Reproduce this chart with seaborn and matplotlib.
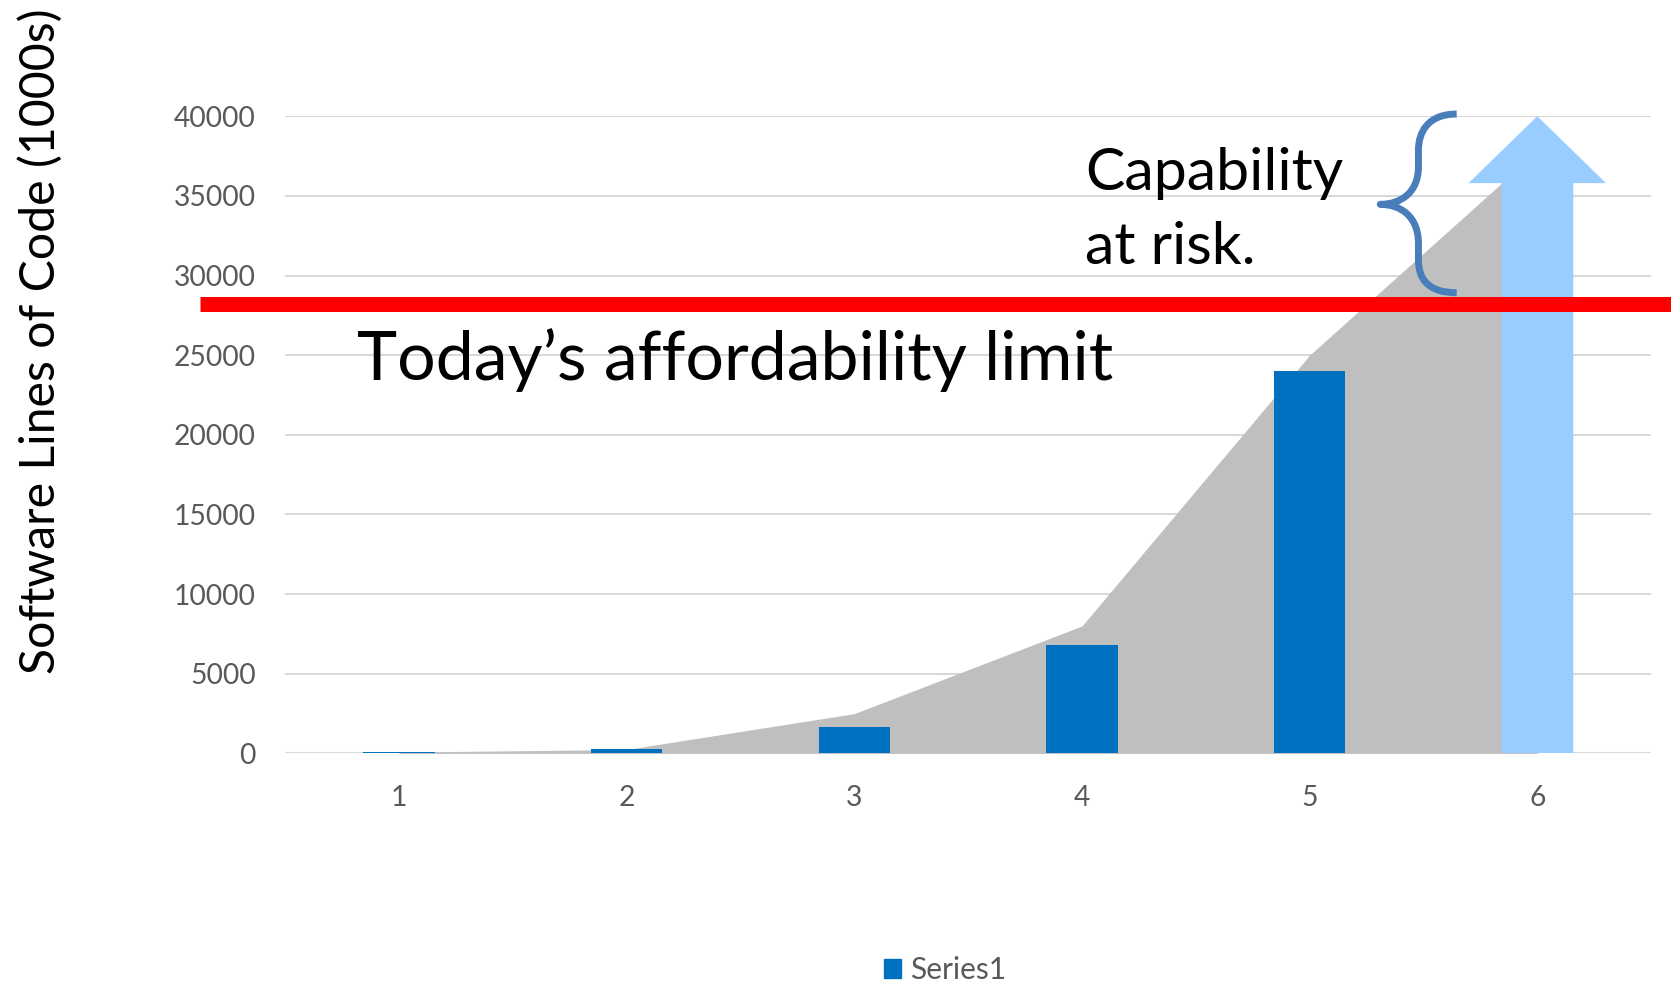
import numpy as np
import pandas as pd
import matplotlib
matplotlib.use("Agg")
import matplotlib.pyplot as plt
import seaborn as sns
from matplotlib.patches import FancyArrow, PathPatch, Patch
from matplotlib.path import Path

# ---- data ----
categories = ["1", "2", "3", "4", "5", "6"]
bar_values = [100, 250, 1650, 6800, 24000, np.nan]      # Series1 (blue bars)
trend_values = [80, 250, 2500, 8000, 25000, 37800]      # grey growth area
projected_value = 40000                                 # light-blue arrow at category 6
arrow_head_base = 35800
affordability_limit = 28200
y_ticks = [0, 5000, 10000, 15000, 20000, 25000, 30000, 35000, 40000]

sns.set_theme(style="white")
plt.rcParams['font.family'] = ['Lato', 'DejaVu Sans']

fig = plt.figure(figsize=(16.71, 9.84), dpi=100)
ax = fig.add_axes([0.1706, 0.2343, 0.8175, 0.6476])

pos = np.arange(len(categories))
df = pd.DataFrame({"category": categories, "value": bar_values})

# grey area
ax.fill_between(pos, trend_values, color="#bfbfbf", linewidth=0, zorder=1)

# blue bars
sns.barplot(data=df, x="category", y="value", order=categories, color="#0070c0",
            width=0.314, saturation=1, ax=ax, zorder=2, linewidth=0, edgecolor="none",
            err_kws={'linewidth': 0})

# light-blue arrow at category 6
ax.add_patch(FancyArrow(pos[-1], 0, 0, projected_value, width=0.316, head_width=0.604,
                        head_length=projected_value - arrow_head_base,
                        length_includes_head=True, color="#99ccff", lw=0, zorder=3))

# axes styling
ax.set_xlim(-0.5, 5.5)
ax.set_ylim(0, 40000)
ax.set_yticks(y_ticks)
ax.set_yticklabels([str(t) for t in y_ticks])
ax.yaxis.grid(True, color="#d9d9d9", lw=1.5)
ax.set_axisbelow(True)
for s in ax.spines.values():
    s.set_visible(False)
ax.tick_params(axis='both', length=0, labelsize=20.3, labelcolor='#595959')
ax.tick_params(axis='y', pad=21)
ax.tick_params(axis='x', pad=23)
ax.set_xlabel("")
ax.set_ylabel("")

# red affordability limit line
ax.axhline(affordability_limit, xmin=-0.062, xmax=1.02, color="#ff0000", lw=10.8,
           clip_on=False, zorder=4, solid_capstyle='butt')

# annotations
ax.text(-0.184, 23440, "Today\u2019s affordability limit", fontsize=49, color='black',
        va='baseline', ha='left', zorder=5)
ax.text(3.015, 35386, "Capability", fontsize=42.5, color='black', va='baseline', ha='left', zorder=5)
ax.text(3.015, 30750, "at risk.", fontsize=42.5, color='black', va='baseline', ha='left', zorder=5)

# curly brace
xe, xs, xt = 4.646, 4.478, 4.310
yt, ym, yb = 40138, 34468, 28920
verts = [
    (xe, yt),
    (4.52, yt), (xs, 39000), (xs, 37866),
    (xs, 36830),
    (xs, 35200), (4.40, ym), (xt, ym),
    (4.40, ym), (xs, 33700), (xs, 32020),
    (xs, 30970),
    (xs, 29800), (4.52, yb), (xe, yb),
]
codes = [Path.MOVETO,
         Path.CURVE4, Path.CURVE4, Path.CURVE4,
         Path.LINETO,
         Path.CURVE4, Path.CURVE4, Path.CURVE4,
         Path.CURVE4, Path.CURVE4, Path.CURVE4,
         Path.LINETO,
         Path.CURVE4, Path.CURVE4, Path.CURVE4]
ax.add_patch(PathPatch(Path(verts, codes), facecolor='none', edgecolor="#4a7ebb",
                       lw=5, clip_on=False, zorder=6, capstyle='butt', joinstyle='round'))

# y label
fig.text(0.0245, 1 - 341 / 984, "Software Lines of Code (1000s)", rotation=90,
         ha='center', va='center', fontsize=34.7, color='black')

# legend
fig.legend(handles=[Patch(color="#0070c0", label="Series1")], loc='center',
           bbox_to_anchor=(945 / 1671, 1 - 970 / 984), frameon=False, fontsize=21.5,
           labelcolor="#595959", handlelength=0.6, handleheight=0.6, handletextpad=0.3)

fig.savefig("out.png", dpi=100)
